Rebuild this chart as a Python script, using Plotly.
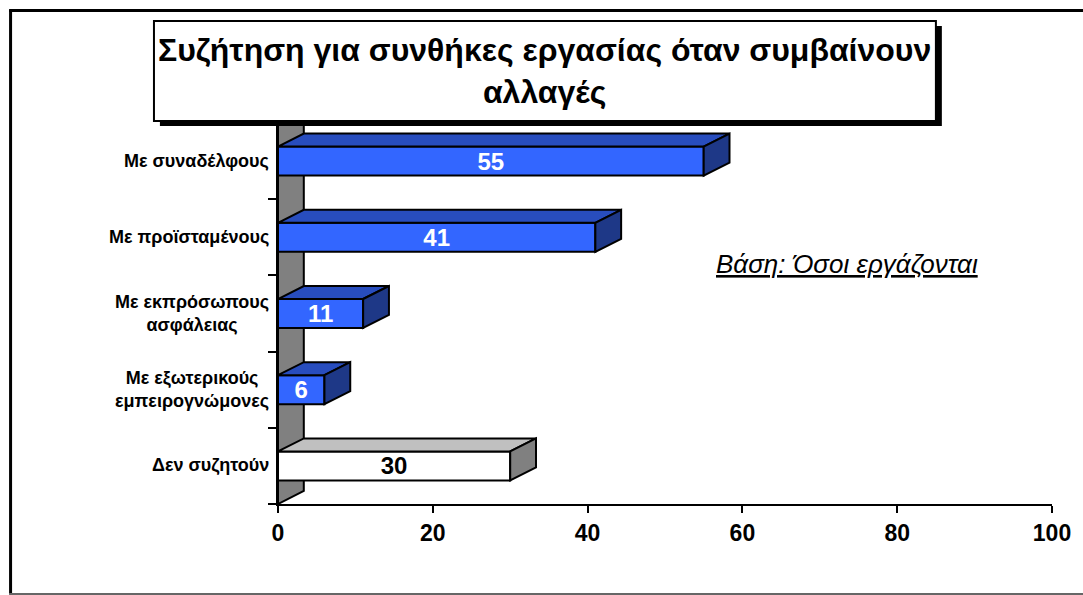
import plotly.graph_objects as go

# Survey data: discussion of working conditions when changes happen
categories = [
    "Με συναδέλφους",
    "Με προϊσταμένους",
    "Με εκπρόσωπους<br>ασφάλειας",
    "Με εξωτερικούς<br>εμπειρογνώμονες",
    "Δεν συζητούν",
]
values = [55, 41, 11, 6, 30]
front_colors = ["#3366FF", "#3366FF", "#3366FF", "#3366FF", "#FFFFFF"]
top_colors = ["#284DBE", "#284DBE", "#284DBE", "#284DBE", "#C0C0C0"]
side_colors = ["#1E3887", "#1E3887", "#1E3887", "#1E3887", "#808080"]
label_colors = ["white", "white", "white", "white", "black"]
x_ticks = [0, 20, 40, 60, 80, 100]

title_text = "Συζήτηση για συνθήκες εργασίας όταν συμβαίνουν<br>αλλαγές"
base_text = "<i><u>Βάση: Όσοι εργάζονται</u></i>"

FONT = "Liberation Sans, Arial, sans-serif"

W, H = 1083, 595
ML, MR, MT, MB = 278, 25, 123, 91
plot_w = W - ML - MR
plot_h = H - MT - MB
x_range = (0, 100)
y_range = (len(categories) - 0.5, -0.5)

px_per_x = plot_w / (x_range[1] - x_range[0])
px_per_y = plot_h / (y_range[0] - y_range[1])

# 3D depth of the bars, in pixels, converted to axis units
DEPTH_PX_X, DEPTH_PX_Y = 26, 13
dxu = DEPTH_PX_X / px_per_x
dyu = DEPTH_PX_Y / px_per_y
bar_w = 29 / px_per_y


def xp(px):
    return (px - ML) / plot_w


def yp(py):
    return (H - MB - py) / plot_h


ypos = list(range(len(categories)))

fig = go.Figure()
fig.add_trace(go.Bar(
    x=values,
    y=ypos,
    orientation="h",
    width=bar_w,
    marker=dict(color=front_colors, line=dict(color="black", width=2)),
    text=values,
    textposition="inside",
    insidetextanchor="middle",
    constraintext="none",
    textangle=0,
    textfont=dict(family=FONT, size=24, color=label_colors, weight="bold"),
    hoverinfo="skip",
))

shapes = []

# side wall behind the bars
y_top, y_bot = y_range[1], y_range[0]
shapes.append(dict(
    type="path", xref="x", yref="y", layer="below",
    path=f"M 0 {y_bot} L {dxu} {y_bot - dyu} L {dxu} {y_top - dyu} L 0 {y_top} Z",
    fillcolor="#808080", line=dict(color="black", width=2),
))

# top and side faces of each bar
for i, v in enumerate(values):
    t = i - bar_w / 2
    b = i + bar_w / 2
    shapes.append(dict(
        type="path", xref="x", yref="y", layer="above",
        path=f"M 0 {t} L {v} {t} L {v + dxu} {t - dyu} L {dxu} {t - dyu} Z",
        fillcolor=top_colors[i], line=dict(color="black", width=2),
    ))
    shapes.append(dict(
        type="path", xref="x", yref="y", layer="above",
        path=f"M {v} {t} L {v + dxu} {t - dyu} L {v + dxu} {b - dyu} L {v} {b} Z",
        fillcolor=side_colors[i], line=dict(color="black", width=2),
    ))

# outer frame
shapes.append(dict(type="line", xref="paper", yref="paper",
                   x0=xp(8.5), y0=yp(10), x1=xp(8.5), y1=yp(594),
                   line=dict(color="black", width=3)))
shapes.append(dict(type="line", xref="paper", yref="paper",
                   x0=xp(7), y0=yp(10.5), x1=xp(1090), y1=yp(10.5),
                   line=dict(color="black", width=3)))
shapes.append(dict(type="line", xref="paper", yref="paper",
                   x0=xp(7), y0=yp(594), x1=xp(1090), y1=yp(594),
                   line=dict(color="#666666", width=2)))

# title box with drop shadow
shapes.append(dict(type="rect", xref="paper", yref="paper", layer="above",
                   x0=xp(159), y0=yp(26), x1=xp(947), y1=yp(126),
                   fillcolor="black", line=dict(width=0)))
shapes.append(dict(type="rect", xref="paper", yref="paper", layer="above",
                   x0=xp(153), y0=yp(21), x1=xp(941), y1=yp(121),
                   fillcolor="white", line=dict(color="black", width=2)))

annotations = [
    dict(text=title_text, xref="paper", yref="paper", x=xp(547), y=yp(71),
         xanchor="center", yanchor="middle", showarrow=False, align="center",
         font=dict(family=FONT, size=32, color="black", weight="bold")),
    dict(text=base_text, xref="paper", yref="paper", x=xp(851), y=yp(264),
         xanchor="center", yanchor="middle", showarrow=False,
         font=dict(family=FONT, size=26, color="black")),
]

for i, c in enumerate(categories):
    annotations.append(dict(
        text=c, xref="paper", yref="y", x=0, y=i, xanchor="right",
        yanchor="middle", xshift=-7, showarrow=False, align="center",
        font=dict(family=FONT, size=18, color="black", weight="bold"),
    ))

fig.update_layout(
    width=W, height=H,
    margin=dict(l=ML, r=MR, t=MT, b=MB, pad=0),
    paper_bgcolor="white", plot_bgcolor="white",
    showlegend=False,
    shapes=shapes,
    annotations=annotations,
    xaxis=dict(
        range=list(x_range), tickmode="array", tickvals=x_ticks,
        ticks="outside", ticklen=7, tickwidth=2, tickcolor="black",
        showline=True, linecolor="black", linewidth=2,
        showgrid=False, zeroline=False,
        tickfont=dict(family=FONT, size=23, color="black", weight="bold"),
        fixedrange=True,
    ),
    yaxis=dict(
        range=list(y_range), showticklabels=False,
        tickmode="array", tickvals=ypos, ticks="",
        minor=dict(tickmode="array",
                   tickvals=[k - 0.5 for k in range(len(categories) + 1)],
                   ticks="outside", ticklen=8, tickwidth=2, tickcolor="black"),
        showline=True, linecolor="black", linewidth=2,
        showgrid=False, zeroline=False, fixedrange=True,
    ),
)

fig.write_html("out.html")
